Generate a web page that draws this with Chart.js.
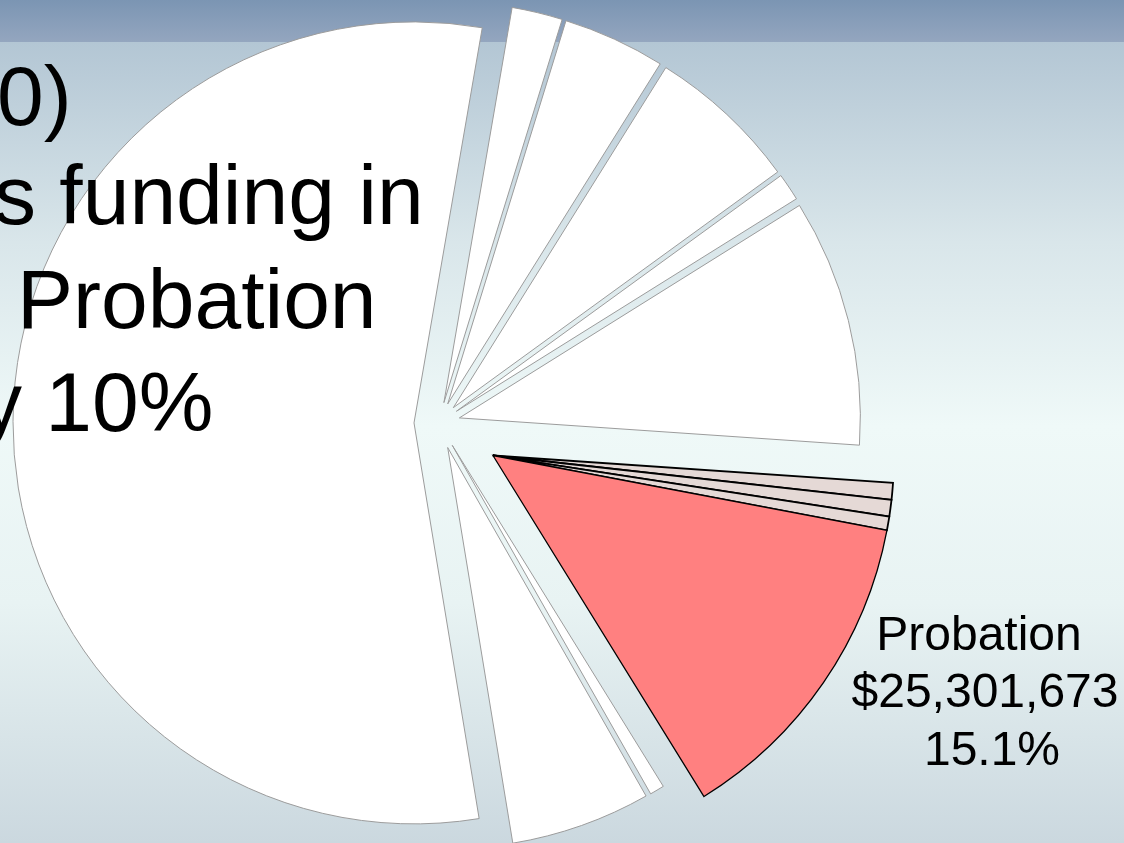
<!DOCTYPE html>
<html>
<head>
<meta charset="utf-8">
<script src="https://cdn.jsdelivr.net/npm/chart.js@4/dist/chart.umd.min.js"></script>
<style>
  html, body { margin: 0; padding: 0; overflow: hidden; }
  #wrap { position: relative; width: 1124px; height: 843px; }
</style>
</head>
<body>
<div id="wrap"><canvas id="budget_pie" width="1124" height="843"></canvas></div>
<script>
// budget slices, clockwise from the first one after the big slice
var labels = ["Item 1", "Item 2", "Item 3", "Item 4", "Item 5", "Probation (a)", "Probation (b)", "Probation (c)", "Probation", "Item 6", "Item 7", "Item 8"];
var amounts = [3422000, 6914000, 10242000, 1862000, 16713000, 1141000, 1117000, 931000, 22112673, 978000, 9451000, 92714000];
var groups = ["", "", "", "", "", "Probation", "Probation", "Probation", "Probation", "", "", ""];
var titleLines = ["0)", "s funding in", "Probation", "y 10%"];

// how far each slice is pulled out of the pie (px)
var explode = [21, 21, 21, 21, 21, 63, 63, 63, 63, 26, 26, 25];

var FONT = "'Liberation Sans', Arial, sans-serif";

function sliceFill(i) {
    if (groups[i] !== "Probation") return "#ffffff";
    return labels[i] === "Probation" ? "#ff8080" : "#e5d9d6";
}
function sliceBorder(i) {
    return groups[i] === "Probation" ? "#000000" : "#9c9c9c";
}
function sliceLine(i) {
    if (!groups[i]) return 1;
    return labels[i] === "Probation" ? 1.3 : 1.8;
}
function money(v) {
    return "$" + Math.round(v).toLocaleString("en-US");
}

var backdropPlugin = {
    id: "backdrop",
    beforeDraw(chart) {
        var ctx = chart.ctx, w = chart.width, h = chart.height;
        ctx.save();
        var g = ctx.createLinearGradient(0, 42, 0, h);
        g.addColorStop(0, "#b3c6d4");
        g.addColorStop(0.25, "#d9e6ea");
        g.addColorStop(0.48, "#eff9f8");
        g.addColorStop(0.7, "#e8f3f3");
        g.addColorStop(1, "#cbd8df");
        ctx.fillStyle = g;
        ctx.fillRect(0, 0, w, h);
        var band = ctx.createLinearGradient(0, 0, 0, 42);
        band.addColorStop(0, "#7b95b3");
        band.addColorStop(1, "#94a6bf");
        ctx.fillStyle = band;
        ctx.fillRect(0, 0, w, 42);
        ctx.restore();
    }
};

// pull slices outward along their own middle angle; a group moves as one piece
var explodePlugin = {
    id: "explode",
    afterDatasetUpdate(chart, args) {
        var arcs = args.meta.data;
        var gStart = null, gEnd = null;
        arcs.forEach(function (arc, i) {
            if (groups[i]) {
                gStart = gStart === null ? arc.startAngle : Math.min(gStart, arc.startAngle);
                gEnd = gEnd === null ? arc.endAngle : Math.max(gEnd, arc.endAngle);
            }
        });
        arcs.forEach(function (arc, i) {
            var mid = groups[i] ? (gStart + gEnd) / 2 : (arc.startAngle + arc.endAngle) / 2;
            arc.x += Math.cos(mid) * explode[i];
            arc.y += Math.sin(mid) * explode[i];
        });
    }
};

var textPlugin = {
    id: "slideText",
    afterDraw(chart) {
        var ctx = chart.ctx;
        ctx.save();
        ctx.fillStyle = "#000000";
        ctx.textBaseline = "alphabetic";

        // title lines running behind the pie edge
        ctx.font = "84px " + FONT;
        ctx.textAlign = "left";
        var tx = [-3, -6, 17, -20];
        var ty = [125, 224, 328, 431];
        titleLines.forEach(function (t, i) { ctx.fillText(t, tx[i], ty[i]); });

        // label for the probation group
        var total = amounts.reduce(function (a, b) { return a + b; }, 0);
        var prob = 0;
        amounts.forEach(function (v, i) { if (groups[i] === "Probation") prob += v; });
        ctx.font = "48px " + FONT;
        ctx.textAlign = "center";
        ctx.fillText("Probation", 979, 650);
        ctx.fillText(money(prob), 985, 707);
        ctx.fillText((prob / total * 100).toFixed(1) + "%", 992, 765);
        ctx.restore();
    }
};

var ctx = document.getElementById("budget_pie");
var myChart = new Chart(ctx, {
    type: "pie",
    data: {
        labels: labels,
        datasets: [{
            data: amounts,
            backgroundColor: labels.map(function (l, i) { return sliceFill(i); }),
            borderColor: labels.map(function (l, i) { return sliceBorder(i); }),
            borderWidth: labels.map(function (l, i) { return sliceLine(i); }),
            borderJoinStyle: "miter",
            clip: false
        }]
    },
    options: {
        responsive: false,
        animation: false,
        rotation: 9.8,
        radius: 401,
        layout: { padding: { top: 3, right: 246, left: 0, bottom: 0 } },
        plugins: {
            legend: { display: false },
            tooltip: { enabled: false }
        }
    },
    plugins: [backdropPlugin, explodePlugin, textPlugin]
});
</script>
</body>
</html>
